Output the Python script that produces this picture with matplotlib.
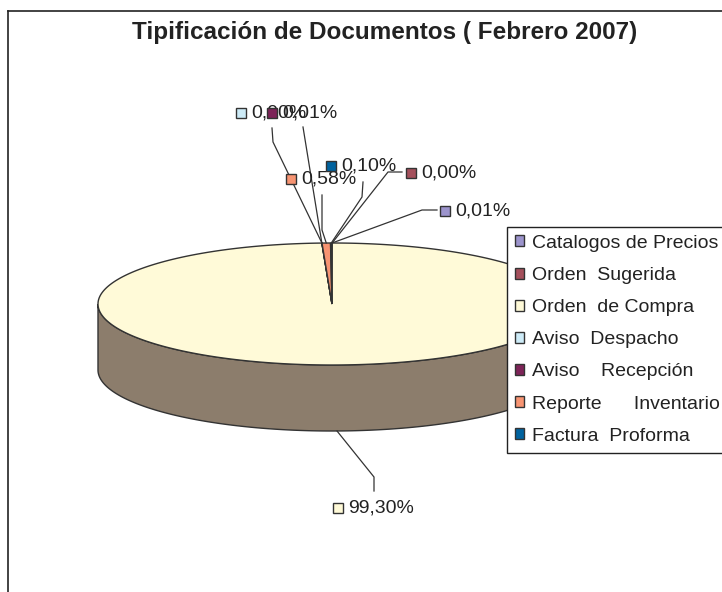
import numpy as np
import matplotlib
matplotlib.use("Agg")
import matplotlib.pyplot as plt
from matplotlib.patches import Polygon
from matplotlib.colors import to_rgb

plt.rcParams['font.family'] = ['Liberation Sans', 'DejaVu Sans']

categories = ["Catalogos de Precios", "Orden  Sugerida", "Orden  de Compra",
              "Aviso  Despacho", "Aviso    Recepción", "Reporte      Inventario",
              "Factura  Proforma"]
values = [0.01, 0.00, 99.30, 0.00, 0.01, 0.58, 0.10]
colors = ['#9c94cc', '#a5505c', '#fffad8', '#cdebf7', '#7d2358', '#f79472', '#00629e']

# label layout (text anchor, leader knee points) in pixels
label_pos = [(445, 211), (411, 173), (338, 508), (241, 113), (272, 113), (291, 179), (331, 166)]
leaders = [
    [(422, 210), (437, 210)],
    [(388, 172), (402, 172)],
    [(374, 477), (374, 491)],
    [(303, 127)],
    [(273, 142), (272, 128)],
    [(322, 230), (322, 195)],
    [(362, 197), (363, 182)],
]

CX, CY, A, B, DEPTH = 332, 304, 234, 61, 66
EDGE = '#333333'

fig = plt.figure(figsize=(7.22, 5.92), dpi=100)
ax = fig.add_axes([0, 0, 1, 1])
ax.set_xlim(0, 722)
ax.set_ylim(592, 0)
ax.axis('off')


def rim(t, dy=0):
    r = np.radians(t)
    return CX + A * np.sin(r), CY - B * np.cos(r) + dy


def shade(c):
    r, g, b = to_rgb(c)
    return (r * 0.55, g * 0.5, b * 0.5)


cum = np.concatenate([[0], np.cumsum(values)]) / sum(values) * 360

# side walls (front half only)
for i, c in enumerate(colors):
    t0, t1 = max(cum[i], 90), min(cum[i + 1], 270)
    if t1 <= t0:
        continue
    t = np.linspace(t0, t1, 200)
    ux, uy = rim(t)
    lx, ly = rim(t, DEPTH)
    pts = np.column_stack([np.concatenate([ux, lx[::-1]]), np.concatenate([uy, ly[::-1]])])
    ax.add_patch(Polygon(pts, closed=True, fc=shade(c), ec=EDGE, lw=1, zorder=1))

# top faces
handles = []
for i, c in enumerate(colors):
    t = np.linspace(cum[i], cum[i + 1], max(2, int(cum[i + 1] - cum[i]) * 2))
    x, y = rim(t)
    pts = np.column_stack([np.concatenate([[CX], x]), np.concatenate([[CY], y])])
    p = Polygon(pts, closed=True, fc=c, ec=EDGE, lw=1, zorder=2)
    ax.add_patch(p)
    handles.append(p)

# data labels with leader lines
for i, v in enumerate(values):
    mid = (cum[i] + cum[i + 1]) / 2
    if 90 < mid < 270:
        sx, sy = rim(mid, DEPTH)
    else:
        sx, sy = rim(mid)
    pts = [(sx, sy)] + leaders[i]
    ax.plot([p[0] for p in pts], [p[1] for p in pts], color=EDGE, lw=0.9, zorder=3)
    lx, ly = label_pos[i]
    ax.plot(lx, ly, marker='s', ms=7.5, mfc=colors[i], mec=EDGE, mew=1, zorder=4)
    ax.text(lx + 10, ly, f"{v:.2f}%".replace('.', ','), ha='left', va='center',
            fontsize=14, color='#222222', zorder=4)

ax.text(385, 33, "Tipificación de Documentos ( Febrero 2007)", ha='center', va='center',
        fontsize=17.5, fontweight='bold', color='#222222')

# chart border
ax.plot([8, 722], [11, 11], color='#222222', lw=1.2)
ax.plot([8, 8], [11, 592], color='#222222', lw=1.2)

leg = ax.legend(handles, categories, loc='upper left',
                bbox_to_anchor=(507 / 722, 1 - 227 / 592), bbox_transform=fig.transFigure,
                fontsize=14, frameon=True, fancybox=False, framealpha=1,
                edgecolor='#222222', borderpad=0.4, borderaxespad=0,
                labelspacing=0.78, handlelength=0.5, handleheight=0.5, handletextpad=0.4)
leg.get_frame().set_linewidth(1)
leg.set_zorder(10)
for t in leg.get_texts():
    t.set_color('#222222')

fig.savefig('out.png', dpi=100)
